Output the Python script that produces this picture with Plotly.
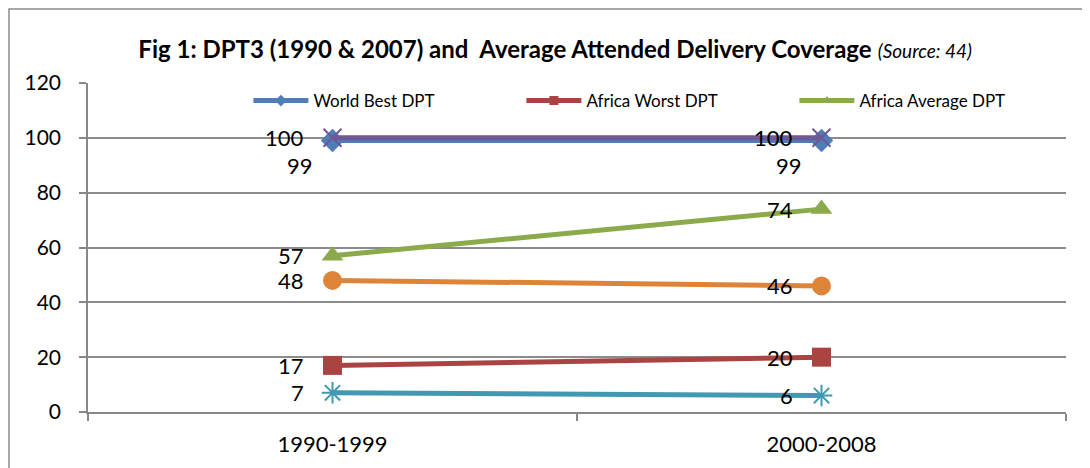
import plotly.graph_objects as go

categories = ["1990-1999", "2000-2008"]
world_best = [99, 99]
africa_worst = [17, 20]
africa_avg = [57, 74]
series_100 = [100, 100]
series_orange = [48, 46]
series_cyan = [7, 6]
y_ticks = [0, 20, 40, 60, 80, 100, 120]

FONT = "Lato"
fig = go.Figure()
annotations = []

def add(name, y, color, symbol, size, label_dx=-27, label_dy=0, open_sym=False):
    marker = dict(symbol=symbol, size=size, color=color)
    if open_sym:
        marker["line"] = dict(color=color, width=2)
    fig.add_trace(go.Scatter(
        x=categories, y=y, name=name, mode="lines+markers",
        line=dict(color=color, width=5), marker=marker,
        showlegend=False, cliponaxis=False))
    for c, v in zip(categories, y):
        annotations.append(dict(
            x=c, y=v, xref="x", yref="y", text=str(v), showarrow=False,
            xanchor="right", yanchor="middle", xshift=label_dx, yshift=label_dy,
            font=dict(family=FONT, size=22, color="black")))

def add_legend(name, color, symbol):
    fig.add_trace(go.Scatter(
        x=[None], y=[None], name=name, mode="lines+markers",
        line=dict(color=color, width=5), marker=dict(symbol=symbol, size=9, color=color),
        showlegend=True))

add("World Best DPT", world_best, "#4F7DB8", "diamond", 18, label_dx=-18, label_dy=-25)
add("Africa Worst DPT", africa_worst, "#A94443", "square", 19)
add("Africa Average DPT", africa_avg, "#8BAA4B", "triangle-up", 19)
add("Series 4", series_100, "#6E5895", "x-thin-open", 18, open_sym=True)
add("Series 5", series_orange, "#DD8439", "circle", 19)
add("Series 6", series_cyan, "#4198B0", "asterisk-open", 18, open_sym=True)

add_legend("World Best DPT", "#4F7DB8", "diamond")
add_legend("Africa Worst DPT", "#A94443", "square")
add_legend("Africa Average DPT", "#8BAA4B", "triangle-up")

L, T, R, B = 80, 75, 32, 64
PW, PH = 1090 - L - R, 468 - T - B

fig.update_layout(
    width=1090, height=468,
    margin=dict(l=L, r=R, t=T, b=B, autoexpand=False),
    paper_bgcolor="white", plot_bgcolor="white",
    font=dict(family=FONT, color="black"),
    title=dict(
        text="<b>Fig 1: DPT3 (1990 &amp; 2007) and  Average Attended Delivery Coverage</b> <i><span style='font-size:19px'>(Source: 44)</span></i>",
        x=0.502, xanchor="center", y=1 - 42 / 468, yanchor="middle",
        font=dict(family=FONT, size=24, color="black")),
    legend=dict(orientation="h", x=0.164, xanchor="left", y=1 - (93 - T) / PH, yanchor="middle",
                font=dict(family=FONT, size=17, color="black"),
                itemwidth=55, entrywidth=203, bgcolor="rgba(0,0,0,0)"),
    showlegend=True,
    annotations=annotations,
)
fig.update_xaxes(
    type="category", range=[-0.5, 1.5], tickson="boundaries", automargin=False,
    showline=True, linecolor="#878787", linewidth=1.5,
    ticks="outside", ticklen=7, tickcolor="#878787", tickwidth=1.5, ticklabelstandoff=12,
    showgrid=False, tickfont=dict(family=FONT, size=22, color="black"))
fig.update_yaxes(
    range=[0, 120], tickvals=y_ticks, showgrid=True, gridcolor="#8c8c8c", gridwidth=1.5,
    showline=True, linecolor="#878787", linewidth=1.5, automargin=False,
    ticks="outside", ticklen=7, tickcolor="#878787", tickwidth=1.5, ticklabelstandoff=14,
    zeroline=False, tickfont=dict(family=FONT, size=21, color="black"))

fig.add_shape(type="rect", xref="paper", yref="paper",
              x0=(1 - L) / PW, x1=(1100 - L) / PW,
              y0=-(B + 20) / PH, y1=(PH + T - 1) / PH,
              line=dict(color="#8a8a8a", width=1.5), layer="below")

fig.write_html("out.html")
